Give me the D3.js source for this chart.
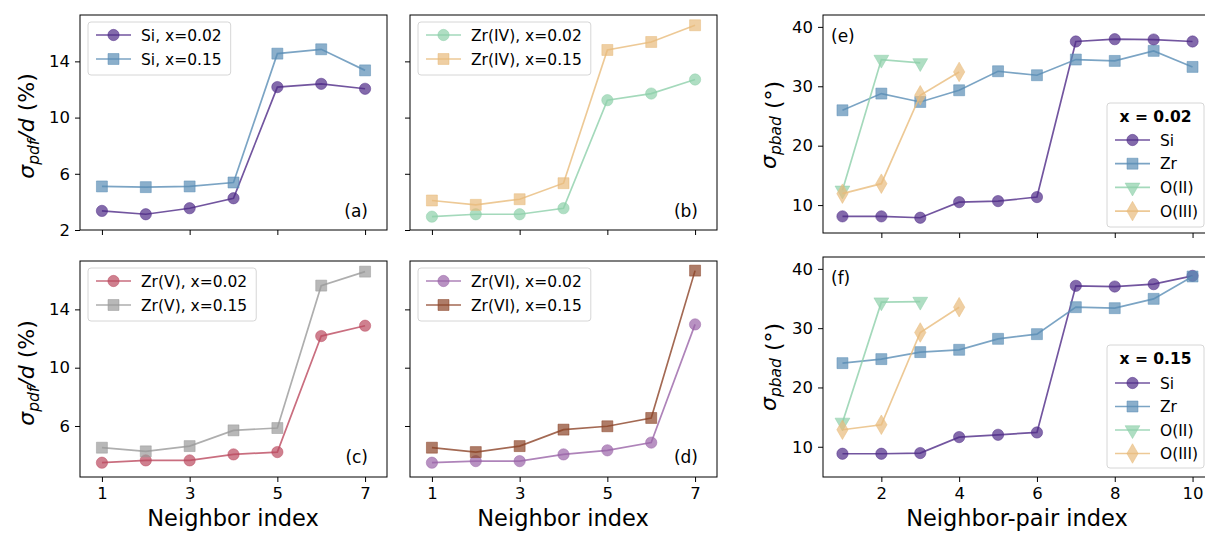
<!DOCTYPE html>
<html>
<head>
<meta charset="utf-8">
<script src="https://cdn.jsdelivr.net/npm/d3@7"></script>
<style>
  body { margin: 0; background: #fff; }
  svg { font-family: "DejaVu Sans", sans-serif; }
</style>
</head>
<body>
<div id="chart"></div>
<script>
// neighbor indices
const nbrIdx = [1, 2, 3, 4, 5, 6, 7];
const pairIdx = [1, 2, 3, 4, 5, 6, 7, 8, 9, 10];

// sigma_pdf / d (%)
const siX02 = [3.36, 3.12, 3.55, 4.26, 12.17, 12.40, 12.05];
const siX15 = [5.10, 5.05, 5.10, 5.38, 14.55, 14.86, 13.36];
const zr4X02 = [2.95, 3.12, 3.12, 3.55, 11.24, 11.71, 12.71];
const zr4X15 = [4.10, 3.79, 4.19, 5.33, 14.81, 15.38, 16.57];
const zr5X02 = [3.48, 3.64, 3.64, 4.05, 4.21, 12.17, 12.88];
const zr5X15 = [4.51, 4.26, 4.62, 5.70, 5.86, 15.63, 16.59];
const zr6X02 = [3.48, 3.59, 3.59, 4.05, 4.33, 4.86, 12.97];
const zr6X15 = [4.51, 4.21, 4.62, 5.75, 5.98, 6.55, 16.66];

// sigma_pbad (deg)
const bad02Si = [8.10, 8.10, 7.87, 10.50, 10.67, 11.35, 37.54, 37.93, 37.87, 37.54];
const bad02Zr = [25.96, 28.77, 27.36, 29.33, 32.53, 31.86, 34.50, 34.27, 35.96, 33.26];
const bad02O2 = [12.48, 34.50, 33.93];
const bad02O3 = [11.92, 13.60, 28.49, 32.42];
const bad15Si = [8.82, 8.82, 8.94, 11.63, 12.02, 12.41, 37.14, 37.02, 37.42, 38.82];
const bad15Zr = [24.10, 24.78, 25.96, 26.35, 28.20, 28.99, 33.54, 33.37, 34.94, 38.71];
const bad15O2 = [14.10, 34.38, 34.49];
const bad15O3 = [12.87, 13.71, 29.27, 33.54];

const pdfTicks = [2, 6, 10, 14];
const nbrTicks = [1, 3, 5, 7];
const badTicks = [10, 20, 30, 40];
const pairTicks = [2, 4, 6, 8, 10];

const svg = d3.select("#chart").append("svg")
  .attr("width", 1205).attr("height", 533);

const shapes = {
  circle: { type: d3.symbolCircle, size: 100, rot: 0 },
  square: { type: d3.symbolSquare, size: 120, rot: 0 },
  tri: { type: d3.symbolTriangle, size: 95, rot: 180 },
  diamond: { type: d3.symbolDiamond, size: 110, rot: 0 }
};

function drawPanel(p) {
  const g = svg.append("g");
  const x = d3.scaleLinear().domain(p.xdom).range([p.left, p.right]);
  const y = d3.scaleLinear().domain(p.ydom).range([p.bottom, p.top]);

  g.append("defs").append("clipPath").attr("id", "clip" + p.id)
    .append("rect").attr("x", p.left).attr("y", p.top)
    .attr("width", p.right - p.left).attr("height", p.bottom - p.top);

  const plot = g.append("g").attr("clip-path", "url(#clip" + p.id + ")");
  const line = d3.line().x(d => x(d[0])).y(d => y(d[1]));

  p.series.forEach(s => {
    const pts = s.values.map((v, i) => [p.xs[i], v]);
    plot.append("path").datum(pts)
      .attr("d", line).attr("fill", "none")
      .attr("stroke", s.color).attr("stroke-width", 1.7)
      .attr("stroke-opacity", 0.8);
    const sh = shapes[s.shape];
    plot.selectAll(null).data(pts).enter().append("path")
      .attr("d", d3.symbol().type(sh.type).size(sh.size))
      .attr("transform", d => `translate(${x(d[0])},${y(d[1])}) rotate(${sh.rot})`)
      .attr("fill", s.color).attr("fill-opacity", 0.7)
      .attr("stroke", s.color).attr("stroke-opacity", 0.5).attr("stroke-width", 1);
  });

  // axes
  const yt = p.yticks.filter(t => t >= p.ydom[0] && t <= p.ydom[1]);
  const xAxis = d3.axisBottom(x).tickValues(p.xticks).tickSize(5).tickPadding(5)
    .tickFormat(p.xlabels ? d3.format("d") : "");
  const yAxis = d3.axisLeft(y).tickValues(yt).tickSize(5).tickPadding(5)
    .tickFormat(p.ylabels ? d3.format("d") : "");

  const gx = g.append("g").attr("transform", `translate(0,${p.bottom})`).call(xAxis);
  const gy = g.append("g").attr("transform", `translate(${p.left},0)`).call(yAxis);
  [gx, gy].forEach(a => {
    a.select(".domain").remove();
    a.selectAll("text").attr("font-size", 16.5).attr("fill", "#000")
      .attr("font-family", "DejaVu Sans");
    a.selectAll("line").attr("stroke", "#000").attr("stroke-width", 1);
  });
  g.append("rect").attr("x", p.left).attr("y", p.top)
    .attr("width", p.right - p.left).attr("height", p.bottom - p.top)
    .attr("fill", "none").attr("stroke", "#000").attr("stroke-width", 1);

  // panel label
  g.append("text").attr("x", p.tag[0]).attr("y", p.tag[1])
    .attr("font-size", 17).attr("text-anchor", p.tag[2]).text(p.tagText);

  // legend
  const L = p.legend;
  const lg = g.append("g");
  const box = lg.append("rect").attr("x", L.x).attr("y", L.y).attr("height", L.h)
    .attr("rx", 3).attr("fill", "#fff").attr("fill-opacity", 0.8)
    .attr("stroke", "#d6d6d6").attr("stroke-width", 1);
  let rowY = L.y + L.first;
  if (L.title) {
    lg.append("text").attr("x", L.x + L.w / 2).attr("y", L.y + 19)
      .attr("text-anchor", "middle").attr("font-size", 15.5).attr("font-weight", "bold")
      .text(L.title);
  }
  let maxW = 0;
  p.series.forEach(s => {
    const hx0 = L.x + 8, hx1 = L.x + 43;
    lg.append("line").attr("x1", hx0).attr("x2", hx1).attr("y1", rowY).attr("y2", rowY)
      .attr("stroke", s.color).attr("stroke-width", 1.7).attr("stroke-opacity", 0.8);
    const sh = shapes[s.shape];
    lg.append("path").attr("d", d3.symbol().type(sh.type).size(sh.size))
      .attr("transform", `translate(${(hx0 + hx1) / 2},${rowY}) rotate(${sh.rot})`)
      .attr("fill", s.color).attr("fill-opacity", 0.7)
      .attr("stroke", s.color).attr("stroke-opacity", 0.5);
    const t = lg.append("text").attr("x", L.x + 53).attr("y", rowY + 5.5)
      .attr("font-size", 15.5).text(s.name);
    maxW = Math.max(maxW, t.node().getComputedTextLength());
    rowY += L.step;
  });
  box.attr("width", L.w || (53 + maxW + 9));
  return g;
}

const cSi = "#4f2b87", cZr = "#5a8db5", cO2 = "#8dd0aa", cO3 = "#e8bb7c";

const topA = 15, botA = 230, topC = 261, botC = 477;
const pdfDomTop = [2, 17.3], pdfDomBot = [2.5, 17.32];

drawPanel({
  id: "a", left: 80, right: 387, top: topA, bottom: botA, xdom: [0.5, 7.5], ydom: pdfDomTop,
  xs: nbrIdx, xticks: nbrTicks, yticks: pdfTicks, xlabels: false, ylabels: true,
  tag: [368, 217, "end"], tagText: "(a)",
  legend: { x: 88, y: 22, h: 53, first: 13, step: 24 },
  series: [
    { name: "Si, x=0.02", values: siX02, color: cSi, shape: "circle" },
    { name: "Si, x=0.15", values: siX15, color: cZr, shape: "square" }
  ]
});
drawPanel({
  id: "b", left: 410, right: 717, top: topA, bottom: botA, xdom: [0.5, 7.5], ydom: pdfDomTop,
  xs: nbrIdx, xticks: nbrTicks, yticks: pdfTicks, xlabels: false, ylabels: false,
  tag: [698, 217, "end"], tagText: "(b)",
  legend: { x: 418, y: 22, h: 53, first: 13, step: 24 },
  series: [
    { name: "Zr(IV), x=0.02", values: zr4X02, color: cO2, shape: "circle" },
    { name: "Zr(IV), x=0.15", values: zr4X15, color: cO3, shape: "square" }
  ]
});
drawPanel({
  id: "c", left: 80, right: 387, top: topC, bottom: botC, xdom: [0.5, 7.5], ydom: pdfDomBot,
  xs: nbrIdx, xticks: nbrTicks, yticks: pdfTicks, xlabels: true, ylabels: true,
  tag: [368, 463, "end"], tagText: "(c)",
  legend: { x: 88, y: 268, h: 53, first: 13, step: 24 },
  series: [
    { name: "Zr(V), x=0.02", values: zr5X02, color: "#bb4a5f", shape: "circle" },
    { name: "Zr(V), x=0.15", values: zr5X15, color: "#9a9a9a", shape: "square" }
  ]
});
drawPanel({
  id: "d", left: 410, right: 717, top: topC, bottom: botC, xdom: [0.5, 7.5], ydom: pdfDomBot,
  xs: nbrIdx, xticks: nbrTicks, yticks: pdfTicks, xlabels: true, ylabels: false,
  tag: [698, 463, "end"], tagText: "(d)",
  legend: { x: 418, y: 268, h: 53, first: 13, step: 24 },
  series: [
    { name: "Zr(VI), x=0.02", values: zr6X02, color: "#9a64a8", shape: "circle" },
    { name: "Zr(VI), x=0.15", values: zr6X15, color: "#8c4428", shape: "square" }
  ]
});
drawPanel({
  id: "e", left: 823, right: 1212, top: 15, bottom: 233, xdom: [0.5, 10.5], ydom: [5.3, 42],
  xs: pairIdx, xticks: pairTicks, yticks: badTicks, xlabels: false, ylabels: true,
  tag: [831, 42, "start"], tagText: "(e)",
  legend: { x: 1107, y: 103, w: 97, h: 124, first: 37, step: 23.7, title: "x = 0.02" },
  series: [
    { name: "Si", values: bad02Si, color: cSi, shape: "circle" },
    { name: "Zr", values: bad02Zr, color: cZr, shape: "square" },
    { name: "O(II)", values: bad02O2, color: cO2, shape: "tri" },
    { name: "O(III)", values: bad02O3, color: cO3, shape: "diamond" }
  ]
});
drawPanel({
  id: "f", left: 823, right: 1212, top: 257, bottom: 477, xdom: [0.5, 10.5], ydom: [4.9, 42],
  xs: pairIdx, xticks: pairTicks, yticks: badTicks, xlabels: true, ylabels: true,
  tag: [831, 284, "start"], tagText: "(f)",
  legend: { x: 1107, y: 345, w: 97, h: 123, first: 38, step: 23.5, title: "x = 0.15" },
  series: [
    { name: "Si", values: bad15Si, color: cSi, shape: "circle" },
    { name: "Zr", values: bad15Zr, color: cZr, shape: "square" },
    { name: "O(II)", values: bad15O2, color: cO2, shape: "tri" },
    { name: "O(III)", values: bad15O3, color: cO3, shape: "diamond" }
  ]
});

// axis titles
function xTitle(cx, text) {
  svg.append("text").attr("x", cx).attr("y", 526).attr("text-anchor", "middle")
    .attr("font-size", 22.5).text(text);
}
xTitle(233, "Neighbor index");
xTitle(563, "Neighbor index");
xTitle(1017, "Neighbor-pair index");

function yTitle(cx, cy, sub, tail) {
  const t = svg.append("text").attr("transform", `translate(${cx},${cy}) rotate(-90)`)
    .attr("text-anchor", "middle").attr("font-size", 22);
  t.append("tspan").attr("font-style", "italic").text("σ");
  t.append("tspan").attr("font-style", "italic").attr("font-size", 15.5).attr("dy", 5).text(sub);
  t.append("tspan").attr("dy", -5).attr("font-style", tail.italic ? "italic" : "normal").text(tail.a);
  t.append("tspan").text(tail.b);
}
yTitle(34, 126, "pdf", { a: "/d", b: " (%)", italic: true });
yTitle(34, 373, "pdf", { a: "/d", b: " (%)", italic: true });
yTitle(776, 125, "pbad", { a: "", b: " (°)" });
yTitle(776, 367, "pbad", { a: "", b: " (°)" });
</script>
</body>
</html>
